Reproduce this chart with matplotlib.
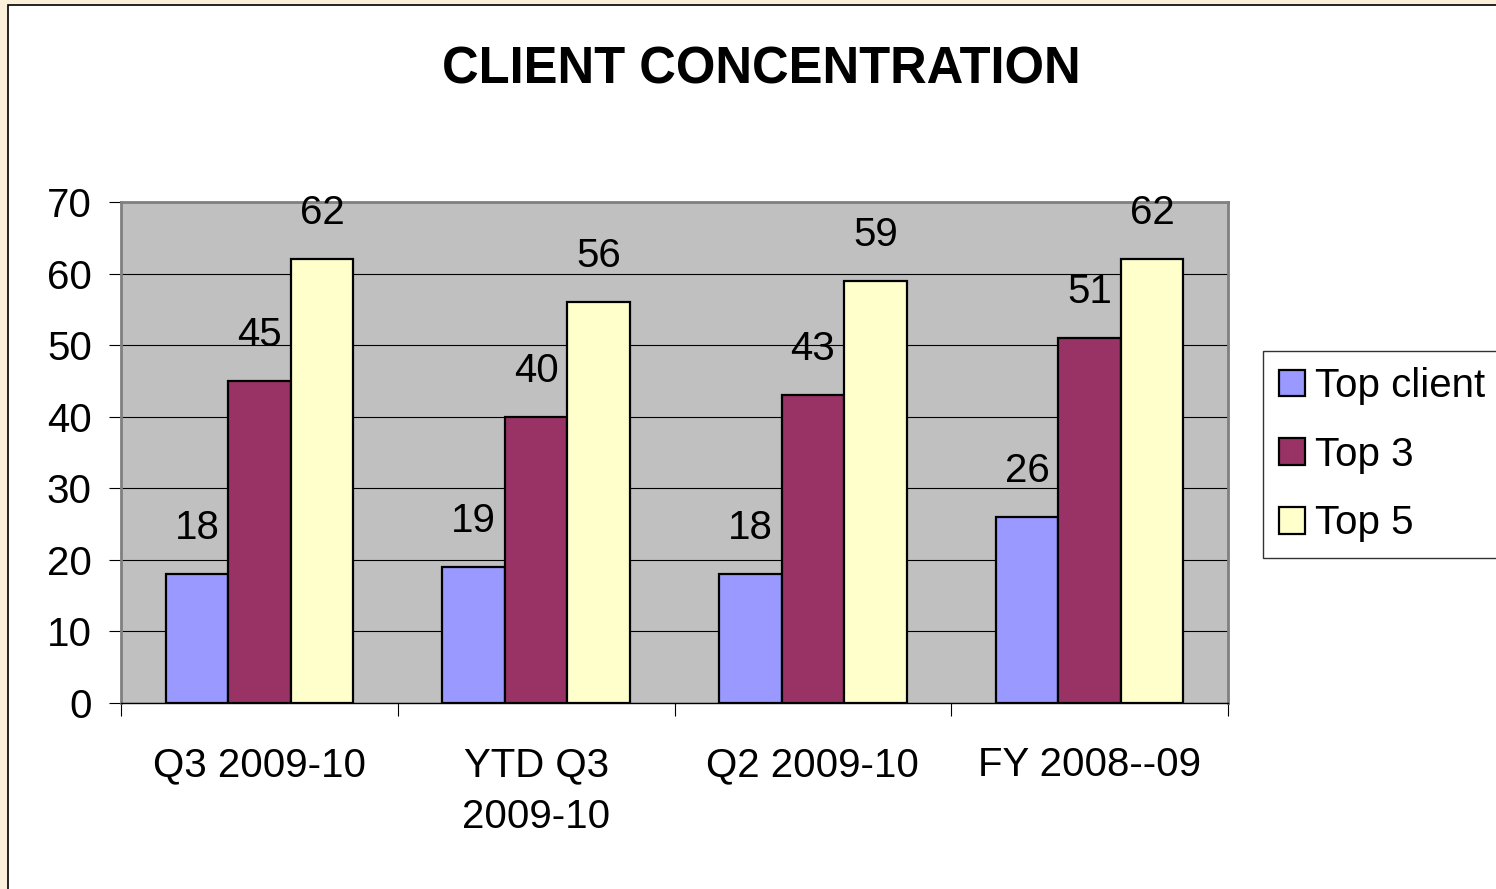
import matplotlib
matplotlib.use("Agg")
import matplotlib.pyplot as plt
from matplotlib.patches import Rectangle
import numpy as np

plt.rcParams['font.family'] = ['Liberation Sans', 'DejaVu Sans']

categories = ["Q3 2009-10", "YTD Q3\n2009-10", "Q2 2009-10", "FY 2008--09"]
series_names = ["Top client", "Top 3", "Top 5"]
top_client = [18, 19, 18, 26]
top3 = [45, 40, 43, 51]
top5 = [62, 56, 59, 62]
colors = ["#9999FF", "#993366", "#FFFFCC"]

fig = plt.figure(figsize=(14.96, 8.89), dpi=100, facecolor="#FBF0D9")
bg = Rectangle((8/1496, -0.01), 1.0, 1 - 5/889 + 0.01, transform=fig.transFigure,
               facecolor="white", edgecolor="black", linewidth=1.2, zorder=-5)
fig.patches.append(bg)

ax = fig.add_axes([121/1496, 1 - 703/889, (1228 - 121)/1496, (703 - 202)/889])
ax.set_facecolor("#C0C0C0")

fs = 29
x = np.arange(len(categories))
w = 0.226
data = [top_client, top3, top5]
for i, (vals, c, name) in enumerate(zip(data, colors, series_names)):
    bars = ax.bar(x + (i - 1) * w, vals, width=w, color=c, edgecolor="black",
                  linewidth=1.6, label=name, zorder=3)
    for b, v in zip(bars, vals):
        ax.annotate(str(v), (b.get_x() + b.get_width() / 2, v), xytext=(0, 33),
                    textcoords="offset points", ha="center", va="center", fontsize=fs)

ax.set_xlim(-0.5, len(categories) - 0.5)
ax.set_ylim(0, 70)
ax.set_yticks(range(0, 71, 10))
ax.yaxis.grid(True, color="black", linewidth=0.8, zorder=1)
ax.set_axisbelow(True)
ax.tick_params(axis="y", labelsize=fs, length=9, width=0.8, pad=12, direction="out")
ax.set_xticks(x)
ax.set_xticklabels(categories, fontsize=fs, linespacing=1.45)
ax.set_xticks(np.arange(-0.5, len(categories), 1.0), minor=True)
ax.tick_params(axis="x", which="major", length=0, pad=31)
ax.tick_params(axis="x", which="minor", length=9, width=0.8, direction="out")
for s in ["top", "right", "left"]:
    ax.spines[s].set_color("#808080")
    ax.spines[s].set_linewidth(2)
ax.spines["bottom"].set_color("black")
ax.spines["bottom"].set_linewidth(1)

fig.text(761/1496, 1 - 70/889, "CLIENT CONCENTRATION", ha="center", va="center",
         fontsize=36.5, fontweight="bold")

leg = ax.legend(loc="upper left", bbox_to_anchor=(1263/1496, 1 - 351/889),
                bbox_transform=fig.transFigure, fontsize=fs, frameon=True, fancybox=False,
                handlelength=0.65, handleheight=0.65, handletextpad=0.25, labelspacing=0.76,
                borderpad=0.4, borderaxespad=0)
leg.get_frame().set_edgecolor("black")
leg.get_frame().set_linewidth(1)

fig.savefig("out.png", dpi=100, facecolor=fig.get_facecolor())
